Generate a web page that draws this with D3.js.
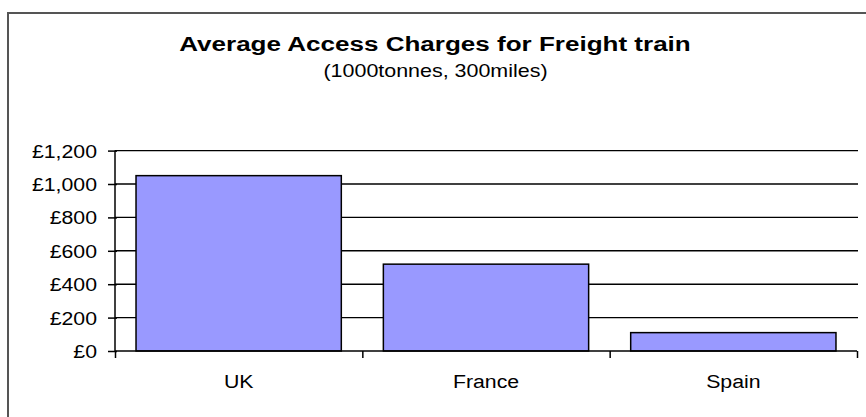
<!DOCTYPE html>
<html>
<head>
<meta charset="utf-8">
<script src="https://cdn.jsdelivr.net/npm/d3@7"></script>
<style>
  body { margin: 0; background: #fff; }
  text { font-family: "Liberation Sans", Arial, sans-serif; fill: #000; }
</style>
</head>
<body>
<svg class="root"></svg>
<script>
var countries = ["UK", "France", "Spain"];
var charges = [1050, 520, 110];
var yTicks = [0, 200, 400, 600, 800, 1000, 1200];
var titleText = "Average Access Charges for Freight train";
var subTitleText = "(1000tonnes, 300miles)";

var W = 866, H = 417,
    plot = {left: 115, right: 857, top: 150.6, bottom: 351},
    stretch = 1.12;

var svg = d3.select(".root")
    .attr("width", W)
    .attr("height", H);

// chart frame, runs off the right and bottom edge like the source
svg.append("rect")
    .attr("x", 8).attr("y", 13)
    .attr("width", 900).attr("height", 450)
    .attr("fill", "none")
    .attr("stroke", "#555")
    .attr("stroke-width", 2);

var x = d3.scaleBand()
    .domain(countries)
    .range([plot.left, plot.right])
    .paddingInner(0.17)
    .paddingOuter(0.085);

var xEdge = d3.scaleLinear()
    .domain([0, countries.length])
    .range([plot.left, plot.right]);

var y = d3.scaleLinear()
    .domain([0, 1200])
    .range([plot.bottom, plot.top]);

// gridlines
svg.append("g")
    .selectAll("line")
    .data(yTicks.filter((d) => d > 0))
  .enter().append("line")
    .attr("x1", plot.left).attr("x2", plot.right + 1)
    .attr("y1", (d) => y(d)).attr("y2", (d) => y(d))
    .attr("stroke", "#000")
    .attr("stroke-width", 1.4);

// bars
svg.append("g")
    .selectAll("rect")
    .data(countries)
  .enter().append("rect")
    .attr("x", (d) => x(d))
    .attr("y", (d, i) => y(charges[i]))
    .attr("width", x.bandwidth())
    .attr("height", (d, i) => y(0) - y(charges[i]))
    .attr("fill", "#9999ff")
    .attr("stroke", "#000")
    .attr("stroke-width", 1.5);

// value axis
var yAxis = svg.append("g")
    .attr("transform", "translate(" + plot.left + ",0)")
    .call(d3.axisLeft(y).tickValues(yTicks).tickSize(7).tickFormat(() => ""));
yAxis.select(".domain").attr("stroke-width", 1.5).attr("d", "M0," + plot.bottom + "V" + plot.top);
yAxis.selectAll(".tick line").attr("x2", 2).attr("x1", -7).attr("stroke-width", 1.5);

svg.append("g")
    .selectAll("text")
    .data(yTicks)
  .enter().append("text")
    .attr("text-anchor", "end")
    .attr("font-size", 19)
    .attr("transform", (d) => "translate(97," + (y(d) + 7) + ") scale(" + stretch + ",1)")
    .text((d) => "£" + d3.format(",")(d));

// category axis with boundary ticks
var xAxis = svg.append("g")
    .attr("transform", "translate(0," + plot.bottom + ")")
    .call(d3.axisBottom(xEdge).tickValues(d3.range(countries.length + 1)).tickSize(7).tickFormat(() => ""));
xAxis.select(".domain").attr("stroke-width", 1.5).attr("d", "M" + plot.left + ",0H" + plot.right);
xAxis.selectAll(".tick line").attr("stroke-width", 1.5);

svg.append("g")
    .selectAll("text")
    .data(countries)
  .enter().append("text")
    .attr("text-anchor", "middle")
    .attr("font-size", 19)
    .attr("transform", (d) => "translate(" + (x(d) + x.bandwidth() / 2) + ",388) scale(" + stretch + ",1)")
    .text((d) => d);

// titles
svg.append("text")
    .attr("text-anchor", "middle")
    .attr("font-size", 21)
    .attr("font-weight", "bold")
    .attr("transform", "translate(435,50.5) scale(1.24,1)")
    .text(titleText);

svg.append("text")
    .attr("text-anchor", "middle")
    .attr("font-size", 18.5)
    .attr("transform", "translate(435.5,76.5) scale(1.16,1)")
    .text(subTitleText);
</script>
</body>
</html>
